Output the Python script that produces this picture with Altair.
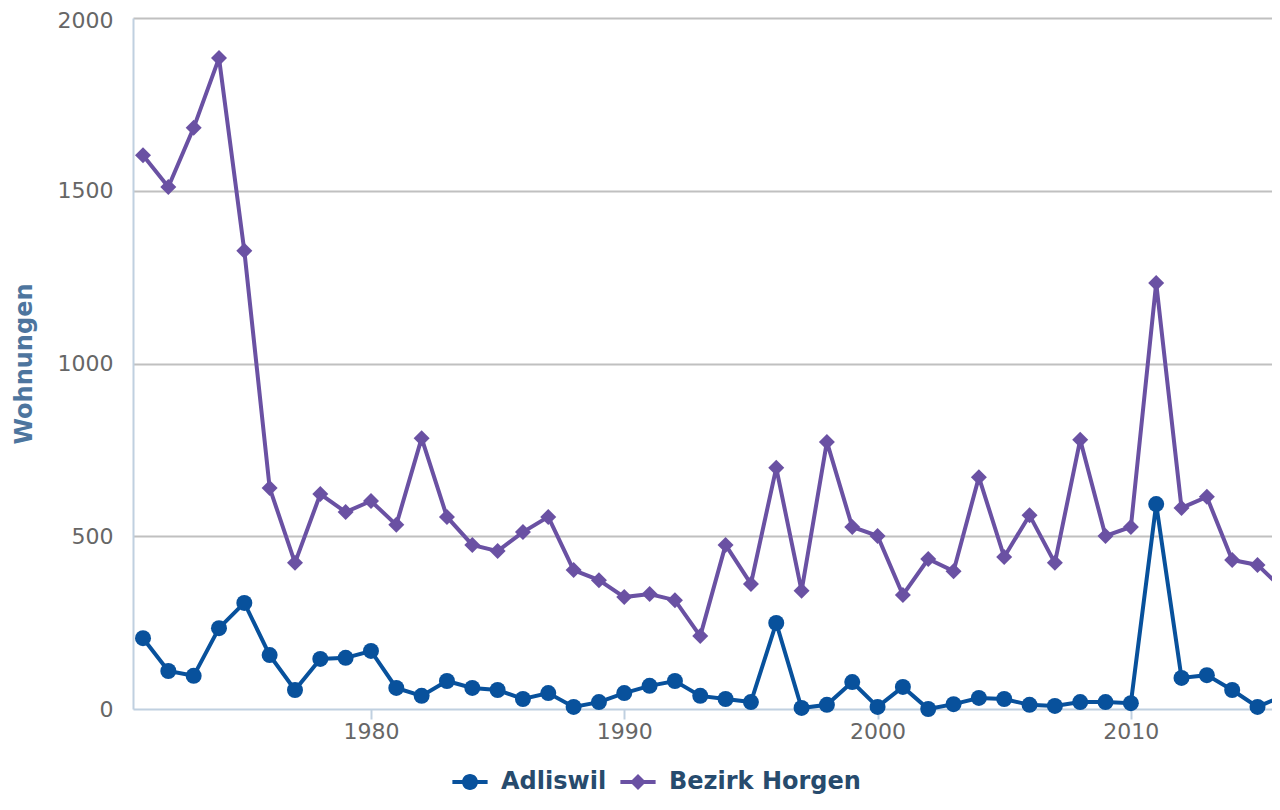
import altair as alt
import pandas as pd

years = list(range(1971, 2017))
adliswil = [205, 110, 96, 234, 307, 156, 55, 145, 148, 168,
            61, 38, 81, 61, 55, 29, 46, 6, 20, 46,
            67, 81, 38, 29, 20, 249, 3, 12, 78, 6,
            64, 0, 14, 32, 29, 12, 9, 20, 20, 17,
            593, 90, 98, 55, 6, 38]
horgen = [1603, 1511, 1682, 1884, 1326, 640, 423, 622, 570, 602,
          533, 784, 556, 475, 457, 512, 556, 402, 373, 324,
          333, 315, 211, 475, 362, 698, 342, 773, 527, 501,
          330, 434, 399, 671, 440, 561, 423, 779, 501, 527,
          1233, 582, 614, 431, 417, 347]
series_names = ["Adliswil", "Bezirk Horgen"]
colors = ["#08519c", "#6a51a3"]
x_ticks = [1980, 1990, 2000, 2010]
y_ticks = [0, 500, 1000, 1500, 2000]

df = pd.DataFrame({
    "Jahr": years * 2,
    "Wohnungen": adliswil + horgen,
    "Serie": [series_names[0]] * len(years) + [series_names[1]] * len(years),
})
df["Legende"] = df["Serie"]

FONT = "DejaVu Sans"

x_enc = alt.X(
    "Jahr:Q",
    scale=alt.Scale(domain=[1970.605, 2015.888], nice=False, zero=False),
    axis=alt.Axis(
        values=x_ticks, format="d", title=None, grid=False,
        labelFont=FONT, labelFontSize=22, labelColor="#666666",
        labelPadding=2, labelFlush=False, labelOverlap=False,
        ticks=True, tickSize=10, tickColor="#c0d0e0", tickWidth=2,
        domainColor="#c0d0e0", domainWidth=2,
    ),
)
y_enc = alt.Y(
    "Wohnungen:Q",
    scale=alt.Scale(domain=[0, 2000], nice=False),
    axis=alt.Axis(
        values=y_ticks, format="d", title="Wohnungen",
        labelFont=FONT, labelFontSize=22, labelColor="#666666",
        labelPadding=20, ticks=False, labelFlush=False,
        labelOffset={"condition": {"test": "datum.value === 2000", "value": 2}, "value": 0},
        domain=True, domainColor="#c0d0e0", domainWidth=2,
        grid=True, gridWidth=2,
        gridColor={"condition": {"test": "datum.value === 0", "value": "transparent"},
                   "value": "#c0c0c0"},
        titleFont=FONT, titleFontSize=24, titleFontWeight="bold",
        titleColor="#4d759e", titleAngle=270, titleAlign="center",
        titleBaseline="middle", titleX=-109, titleY=345.5,
    ),
)

base = alt.Chart(df).encode(x=x_enc, y=y_enc)

lines = base.mark_line(strokeWidth=4).encode(
    color=alt.Color("Serie:N", scale=alt.Scale(domain=series_names, range=colors), legend=None),
)
points = base.mark_point(filled=True, size=256, opacity=1, strokeWidth=0).encode(
    color=alt.Color("Serie:N", scale=alt.Scale(domain=series_names, range=colors), legend=None),
    shape=alt.Shape("Serie:N", scale=alt.Scale(domain=series_names, range=["circle", "diamond"]),
                    legend=None),
)

legend_shapes = [
    "M-2.2,-0.25H2.2V0.25H-2.2Z M1,0A1,1,0,1,1,-1,0A1,1,0,1,1,1,0Z",
    "M-2.2,-0.25H2.2V0.25H-2.2Z M0,-1L1,0L0,1L-1,0Z",
]
leg = alt.Legend(
    title=None, orient="none", legendX=325, legendY=752, direction="horizontal",
    columns=2, padding=0, symbolSize=256, symbolOpacity=1, symbolStrokeWidth=0,
    labelFont=FONT, labelFontSize=24, labelFontWeight="bold", labelColor="#274b6d",
    labelOffset=19, columnPadding=13, labelLimit=400,
)
legend_layer = base.transform_filter("false").mark_point(filled=True, opacity=1).encode(
    color=alt.Color("Legende:N", scale=alt.Scale(domain=series_names, range=colors), legend=leg),
    shape=alt.Shape("Legende:N", scale=alt.Scale(domain=series_names, range=legend_shapes), legend=leg),
)

chart = alt.layer(lines, points, legend_layer).resolve_scale(
    color="independent", shape="independent"
).properties(
    width=1147, height=691,
    padding={"left": 125, "top": 10, "right": -8, "bottom": 88},
    autosize=alt.AutoSizeParams(type="none"),
    background="white",
).configure_view(stroke=None)

chart.save("out.html", embed_options={"renderer": "svg", "actions": False})
